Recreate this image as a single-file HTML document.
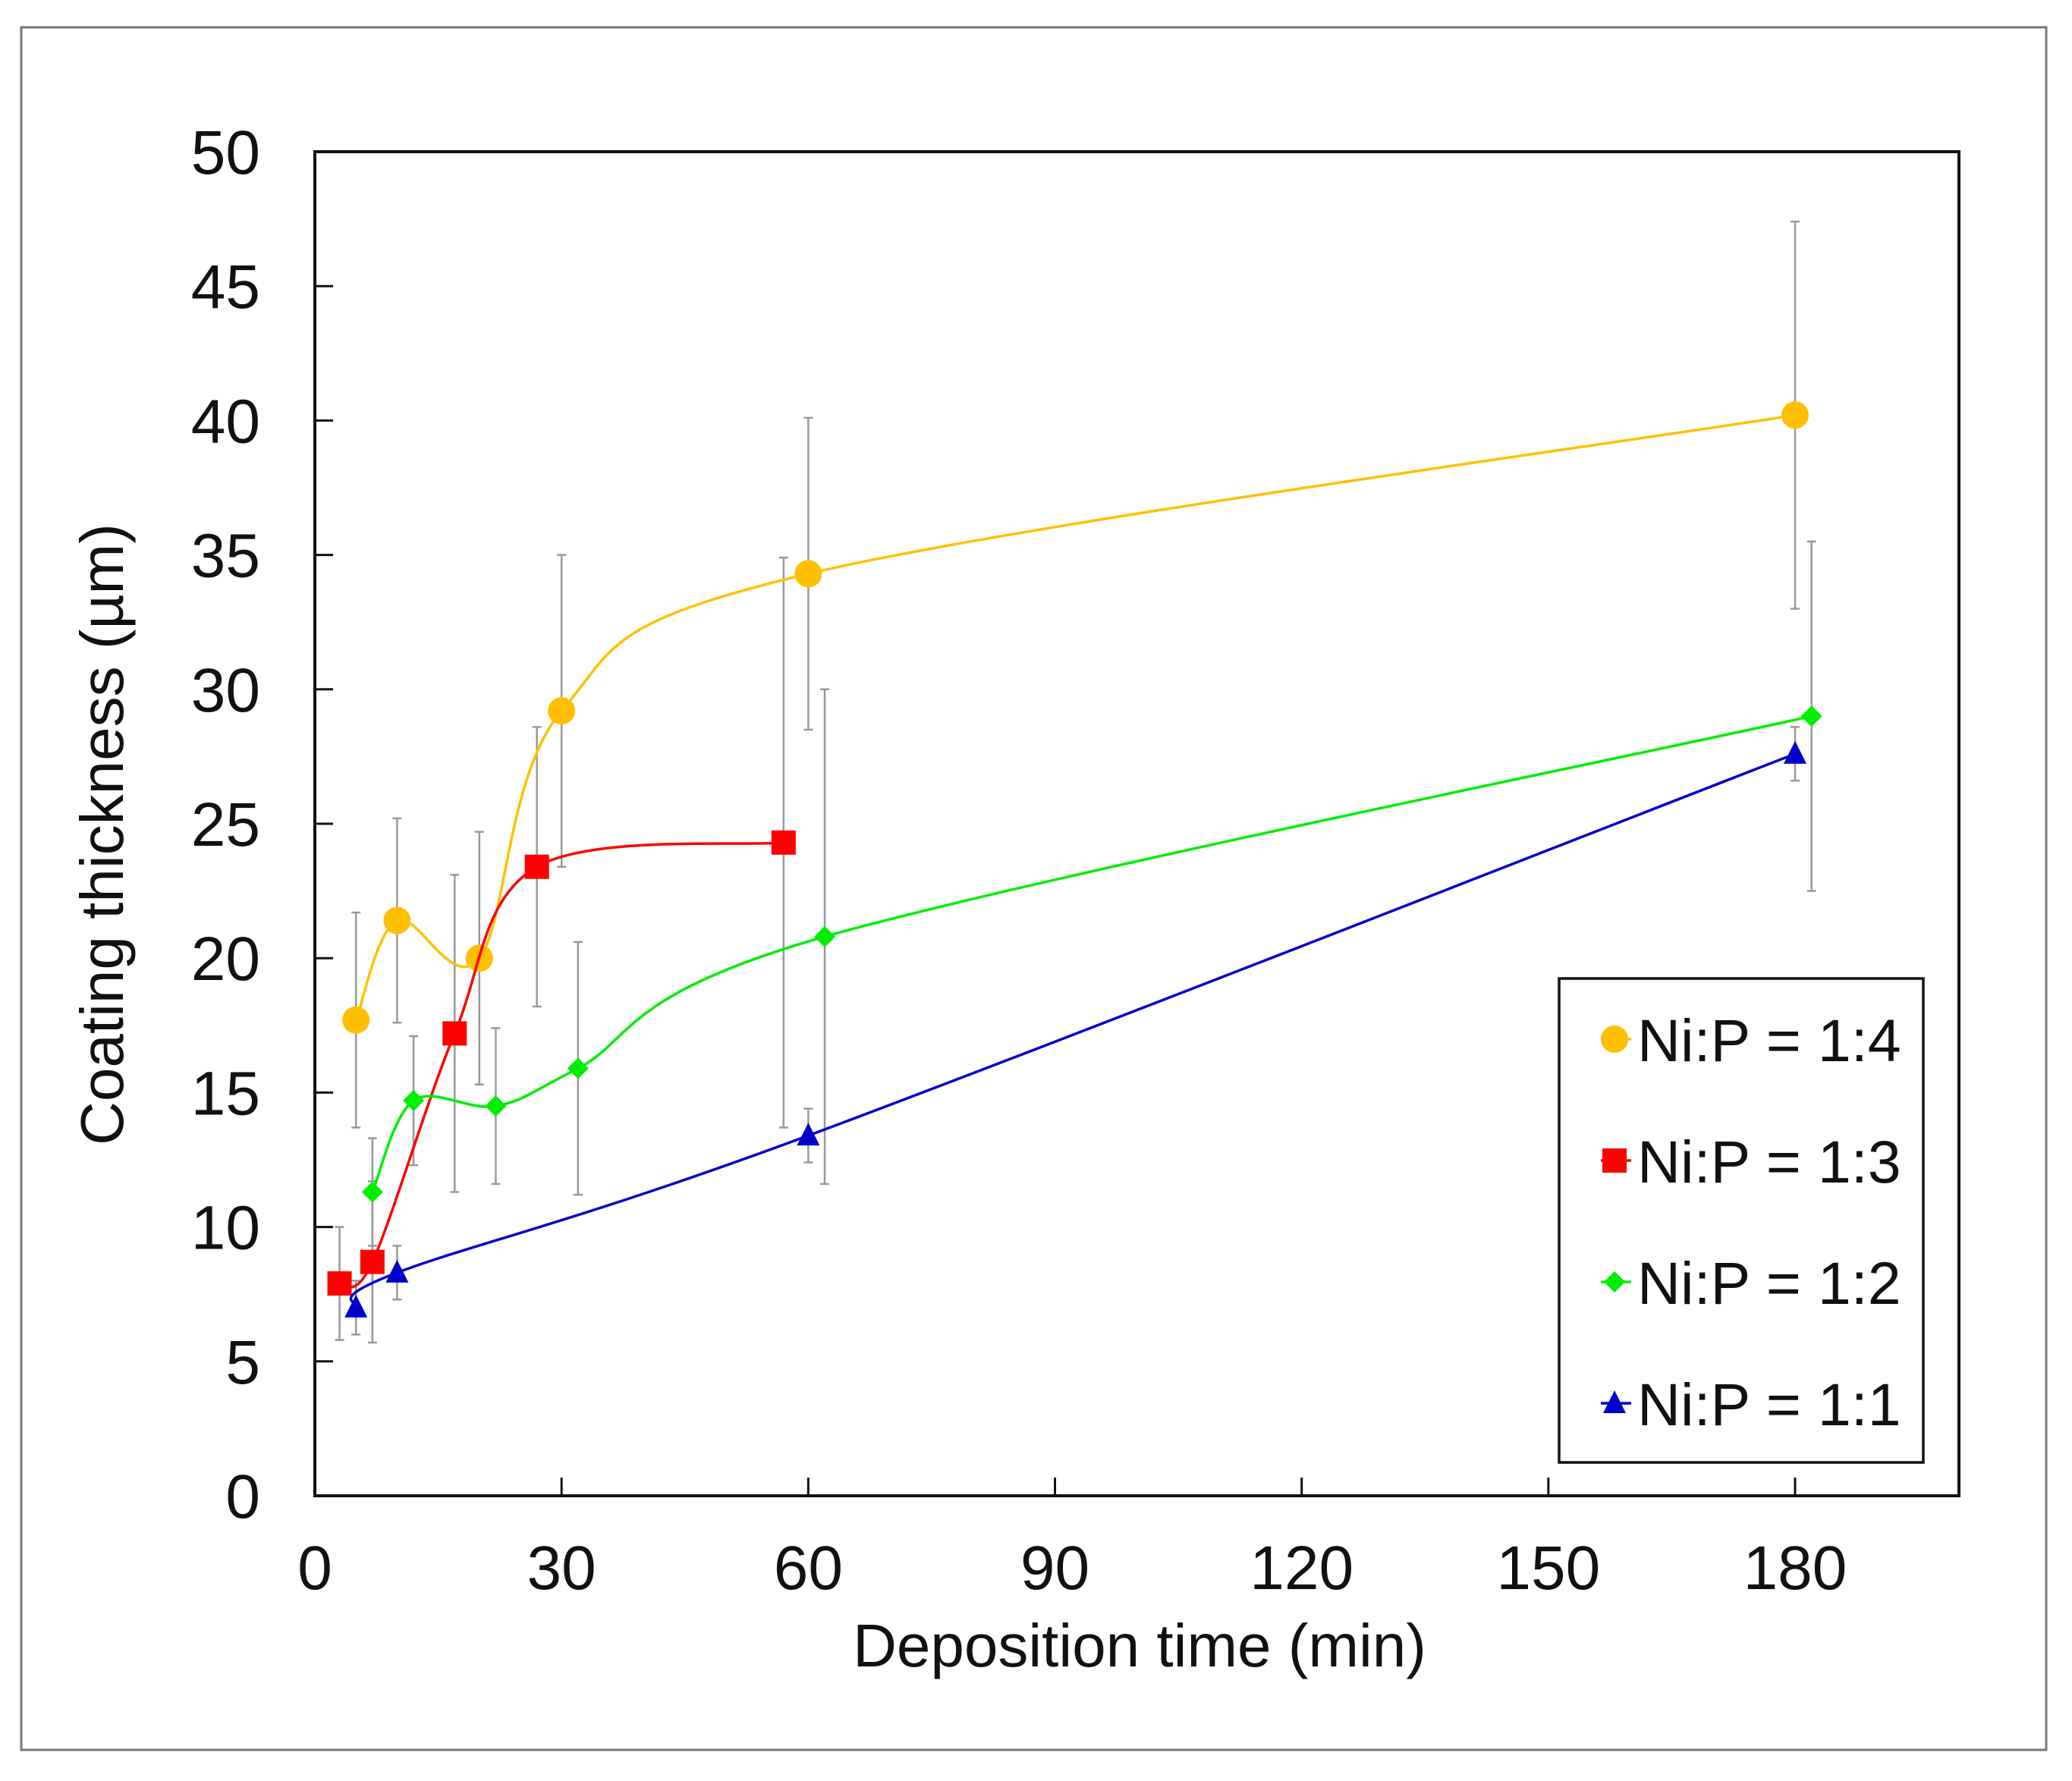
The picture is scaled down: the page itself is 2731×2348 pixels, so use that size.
<!DOCTYPE html>
<html><head><meta charset="utf-8"><style>
html,body{margin:0;padding:0;background:#fff}
svg{display:block;font-family:"Liberation Sans",Arial,sans-serif}
</style></head><body>
<svg id="chart" width="2731" height="2348" viewBox="0 0 2731 2348" xmlns="http://www.w3.org/2000/svg">
<rect x="28" y="36" width="2669" height="2271" fill="#fff" stroke="#777" stroke-width="3"/>
<g id="plot"></g>
</svg>
<script>
const xTicks=[0,30,60,90,120,150,180];
const yTicks=[0,5,10,15,20,25,30,35,40,45,50];
const seriesNames=["Ni:P = 1:4","Ni:P = 1:3","Ni:P = 1:2","Ni:P = 1:1"];
const x14=[5,10,20,30,60,180];
const y14=[17.7,21.4,20.0,29.2,34.3,40.2];
const e14=[4.0,3.8,4.7,5.8,5.8,7.2];
const x13=[3,7,17,27,57];
const y13=[7.9,8.7,17.2,23.4,24.3];
const e13=[2.1,3.0,5.9,5.2,10.6];
const x12=[7,12,22,32,62,182];
const y12=[11.3,14.7,14.5,15.9,20.8,29.0];
const e12=[2.0,2.4,2.9,4.7,9.2,6.5];
const x11=[5,10,60,180];
const y11=[7.0,8.3,13.4,27.6];
const e11=[1.0,1.0,1.0,1.0];

const NS="http://www.w3.org/2000/svg";
const X0=415,X1=2582,Y0=1972,YT=200;
const sx=v=>X0+v*(2366-X0)/180;
const sy=v=>Y0-v*(Y0-YT)/50;
const g=document.getElementById('plot');
function mk(t,a,p){const e=document.createElementNS(NS,t);for(const k in a)e.setAttribute(k,a[k]);(p||g).appendChild(e);return e;}

const frame=mk('rect',{x:X0,y:YT,width:X1-X0,height:Y0-YT,fill:'none',stroke:'#111','stroke-width':4});


yTicks.forEach(v=>{
  if(v>0&&v<50){const t=mk('line',{x1:X0,x2:X0+24,y1:sy(v),y2:sy(v),stroke:'#111','stroke-width':3});
  
  }
  const l=mk('text',{x:343,y:sy(v)+29,'font-size':82,'text-anchor':'end',fill:'#111'});
  
  
  l.textContent=v;
});
xTicks.forEach(v=>{
  if(v>0){const t=mk('line',{x1:sx(v),x2:sx(v),y1:Y0,y2:Y0-24,stroke:'#111','stroke-width':3});
  
  }
  const l=mk('text',{x:sx(v),y:2095,'font-size':82,'text-anchor':'middle',fill:'#111'});
  
  
  l.textContent=v;
});
const xt=mk('text',{x:1502,y:2197,'font-size':80,'text-anchor':'middle',fill:'#111'});


xt.textContent='Deposition time (min)';
const yt=mk('text',{x:0,y:0,'font-size':80,'text-anchor':'middle',fill:'#111',transform:'translate(162,1100) rotate(-90)'});


yt.textContent='Coating thickness (µm)';

function spline(xs,ys){
  const P=xs.map((x,i)=>[sx(x),sy(ys[i])]);
  let d='M'+P[0][0]+','+P[0][1];
  for(let i=0;i<P.length-1;i++){
    const p0=P[i-1]||P[i],p1=P[i],p2=P[i+1],p3=P[i+2]||P[i+1];
    const c1=[p1[0]+(p2[0]-p0[0])/6,p1[1]+(p2[1]-p0[1])/6];
    const c2=[p2[0]-(p3[0]-p1[0])/6,p2[1]-(p3[1]-p1[1])/6];
    d+=' C'+c1+' '+c2+' '+p2;
  }
  return d;
}
function marker(shape,cx,cy,col,name){
  let e;
  if(shape==='circle')e=mk('circle',{cx:cx,cy:cy,r:18,fill:col});
  else if(shape==='square')e=mk('rect',{x:cx-16,y:cy-16,width:32,height:32,fill:col});
  else if(shape==='diamond')e=mk('polygon',{points:`${cx},${cy-14} ${cx+14},${cy} ${cx},${cy+14} ${cx-14},${cy}`,fill:col});
  else e=mk('polygon',{points:`${cx},${cy-17} ${cx+15},${cy+13} ${cx-15},${cy+13}`,fill:col});
  
  
}
const S=[
 {x:x14,y:y14,e:e14,c:'#FFC000',m:'circle',k:'1-4'},
 {x:x13,y:y13,e:e13,c:'#FF0000',m:'square',k:'1-3'},
 {x:x12,y:y12,e:e12,c:'#00EE00',m:'diamond',k:'1-2'},
 {x:x11,y:y11,e:e11,c:'#0000CC',m:'triangle',k:'1-1'}];
S.forEach(s=>{
  s.x.forEach((xv,i)=>{
    const X=sx(xv),a=sy(s.y[i]+s.e[i]),b=sy(s.y[i]-s.e[i]);
    const eb=mk('path',{d:`M${X},${a}V${b}M${X-6},${a}H${X+6}M${X-6},${b}H${X+6}`,stroke:'#999','stroke-width':2.5,fill:'none'});
    
    
  });
});
S.forEach(s=>{
  const p=mk('path',{d:spline(s.x,s.y),stroke:s.c,'stroke-width':3.5,fill:'none'});
  
  
  s.x.forEach((xv,i)=>marker(s.m,sx(xv),sy(s.y[i]),s.c,'point-'+s.k));
});
const lg=mk('rect',{x:2055,y:1290,width:480,height:638,fill:'#fff',stroke:'#111','stroke-width':3.5});


const ly=[1370,1530,1690,1850];
S.forEach((s,i)=>{
  mk('line',{x1:2110,x2:2150,y1:ly[i],y2:ly[i],stroke:s.c,'stroke-width':3.5});
  marker(s.m,2128,ly[i],s.c,'legend-marker-'+s.k);
  const t=mk('text',{x:2158,y:ly[i]+29,'font-size':79,fill:'#111'});
  
  
  t.textContent=seriesNames[i];
});
</script>
</body></html>
